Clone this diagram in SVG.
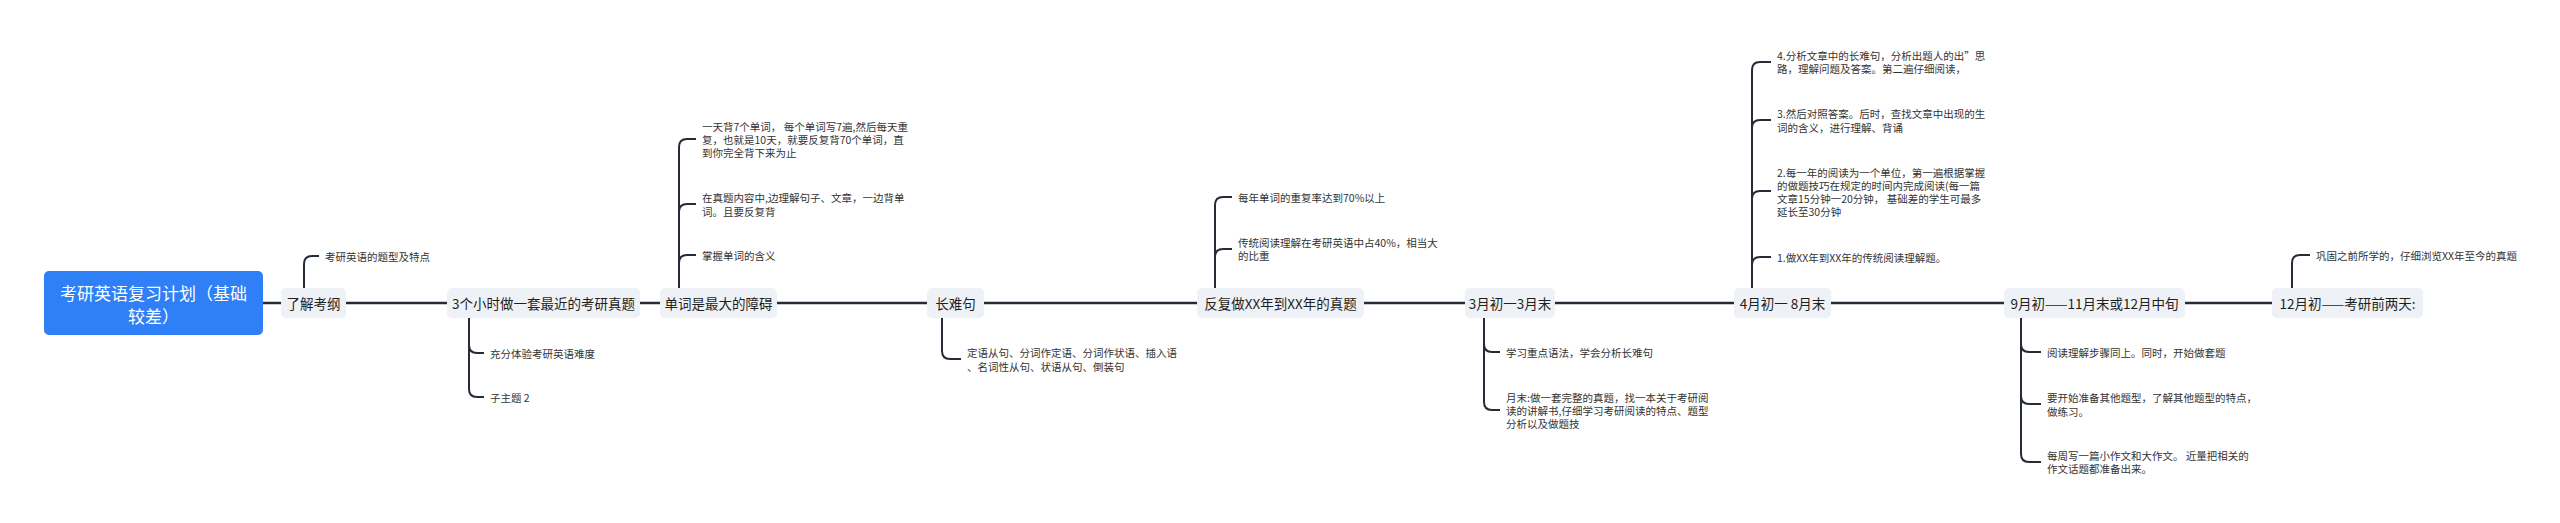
<svg xmlns="http://www.w3.org/2000/svg" width="2560" height="523" viewBox="0 0 2560 523">
<style>
.c{fill:none;stroke:#252c38;stroke-width:2}
.m{fill:none;stroke:#252c38;stroke-width:2.5}
.n{fill:#eef1f5}
.nt{font-family:"Noto Sans CJK SC","Liberation Sans",sans-serif;font-size:13.5px;fill:#1f1f1f;text-anchor:middle;dominant-baseline:central}
.lt{font-family:"Noto Sans CJK SC","Liberation Sans",sans-serif;font-size:10.5px;fill:#333;dominant-baseline:central}
.rt{font-family:"Noto Sans CJK SC","Liberation Sans",sans-serif;font-size:17px;fill:#fff;text-anchor:middle;dominant-baseline:central}
</style>
<rect width="2560" height="523" fill="#fff"/>
<g id="connectors">
<path class="m" d="M263 303H2272"/>
<path class="c" d="M304 288V264Q304 256 312 256H319"/>
<path class="c" d="M469 318V345Q469 353 477 353H484M469 318V389Q469 397 477 397H484"/>
<path class="c" d="M679 288V147Q679 139 687 139H696M679 288V212Q679 204 687 204H696M679 288V263Q679 255 687 255H696"/>
<path class="c" d="M942 318V351Q942 359 950 359H961"/>
<path class="c" d="M1215 288V205Q1215 197 1223 197H1232M1215 288V257Q1215 249 1223 249H1232"/>
<path class="c" d="M1484 318V344Q1484 352 1492 352H1500M1484 318V402Q1484 410 1492 410H1500"/>
<path class="c" d="M1752 288V70Q1752 62 1760 62H1771M1752 288V128Q1752 120 1760 120H1771M1752 288V199Q1752 191 1760 191H1771M1752 288V265Q1752 257 1760 257H1771"/>
<path class="c" d="M2021 318V344Q2021 352 2029 352H2041M2021 318V396Q2021 404 2029 404H2041M2021 318V454Q2021 462 2029 462H2041"/>
<path class="c" d="M2292 288V263Q2292 255 2300 255H2310"/>
</g>
<g id="root"><rect x="44" y="271" width="219" height="64" rx="5" fill="#2f7ff6"/><text class="rt" x="153.5" y="292">考研英语复习计划（基础</text><text class="rt" x="153.5" y="315">较差）</text></g>
<g id="n1"><rect class="n" x="281" y="288" width="65" height="30" rx="5"/><text class="nt" x="313.5" y="303">了解考纲</text></g>
<g id="n1a"><text class="lt" x="325" y="256">考研英语的题型及特点</text></g>
<g id="n2"><rect class="n" x="447" y="288" width="193" height="30" rx="5"/><text class="nt" x="543.5" y="303">3个小时做一套最近的考研真题</text></g>
<g id="n2a"><text class="lt" x="490" y="353">充分体验考研英语难度</text></g>
<g id="n2b"><text class="lt" x="490" y="397">子主题 2</text></g>
<g id="n3"><rect class="n" x="660" y="288" width="117" height="30" rx="5"/><text class="nt" x="718.5" y="303">单词是最大的障碍</text></g>
<g id="n3a"><text class="lt" x="702" y="126">一天背7个单词， 每个单词写7遍,然后每天重</text><text class="lt" x="702" y="139">复，也就是10天，就要反复背70个单词，直</text><text class="lt" x="702" y="152">到你完全背下来为止</text></g>
<g id="n3b"><text class="lt" x="702" y="197">在真题内容中,边理解句子、文章，一边背单</text><text class="lt" x="702" y="211">词。且要反复背</text></g>
<g id="n3c"><text class="lt" x="702" y="255">掌握单词的含义</text></g>
<g id="n4"><rect class="n" x="927" y="288" width="57" height="30" rx="5"/><text class="nt" x="955.5" y="303">长难句</text></g>
<g id="n4a"><text class="lt" x="967" y="352">定语从句、分词作定语、分词作状语、插入语</text><text class="lt" x="967" y="366">、名词性从句、状语从句、倒装句</text></g>
<g id="n5"><rect class="n" x="1197" y="288" width="167" height="30" rx="5"/><text class="nt" x="1280.5" y="303">反复做XX年到XX年的真题</text></g>
<g id="n5a"><text class="lt" x="1238" y="197">每年单词的重复率达到70%以上</text></g>
<g id="n5b"><text class="lt" x="1238" y="242">传统阅读理解在考研英语中占40%，相当大</text><text class="lt" x="1238" y="255">的比重</text></g>
<g id="n6"><rect class="n" x="1465" y="288" width="90" height="30" rx="5"/><text class="nt" x="1510" y="303">3月初一3月末</text></g>
<g id="n6a"><text class="lt" x="1506" y="352">学习重点语法，学会分析长难句</text></g>
<g id="n6b"><text class="lt" x="1506" y="397">月末:做一套完整的真题，找一本关于考研阅</text><text class="lt" x="1506" y="410">读的讲解书,仔细学习考研阅读的特点、题型</text><text class="lt" x="1506" y="423">分析以及做题技</text></g>
<g id="n7"><rect class="n" x="1734" y="288" width="97" height="30" rx="5"/><text class="nt" x="1782.5" y="303">4月初一 8月末</text></g>
<g id="n7a"><text class="lt" x="1777" y="55">4.分析文章中的长难句，分析出题人的出”思</text><text class="lt" x="1777" y="68">路，理解问题及答案。第二遍仔细阅读，</text></g>
<g id="n7b"><text class="lt" x="1777" y="113">3.然后对照答案。后时，查找文章中出现的生</text><text class="lt" x="1777" y="127">词的含义，进行理解、背诵</text></g>
<g id="n7c"><text class="lt" x="1777" y="172">2.每一年的阅读为一个单位，第一遍根据掌握</text><text class="lt" x="1777" y="185">的做题技巧在规定的时间内完成阅读(每一篇</text><text class="lt" x="1777" y="198">文章15分钟一20分钟， 基础差的学生可最多</text><text class="lt" x="1777" y="211">延长至30分钟</text></g>
<g id="n7d"><text class="lt" x="1777" y="257">1.做XX年到XX年的传统阅读理解题。</text></g>
<g id="n8"><rect class="n" x="2004" y="288" width="181" height="30" rx="5"/><text class="nt" x="2094.5" y="303">9月初——11月末或12月中旬</text></g>
<g id="n8a"><text class="lt" x="2047" y="352">阅读理解步骤同上。同时，开始做套题</text></g>
<g id="n8b"><text class="lt" x="2047" y="397">要开始准备其他题型，了解其他题型的特点，</text><text class="lt" x="2047" y="411">做练习。</text></g>
<g id="n8c"><text class="lt" x="2047" y="455">每周写一篇小作文和大作文。 近量把相关的</text><text class="lt" x="2047" y="468">作文话题都准备出来。</text></g>
<g id="n9"><rect class="n" x="2272" y="288" width="151" height="30" rx="5"/><text class="nt" x="2347.5" y="303">12月初——考研前两天:</text></g>
<g id="n9a"><text class="lt" x="2316" y="255">巩固之前所学的，仔细浏览XX年至今的真题</text></g>
</svg>
